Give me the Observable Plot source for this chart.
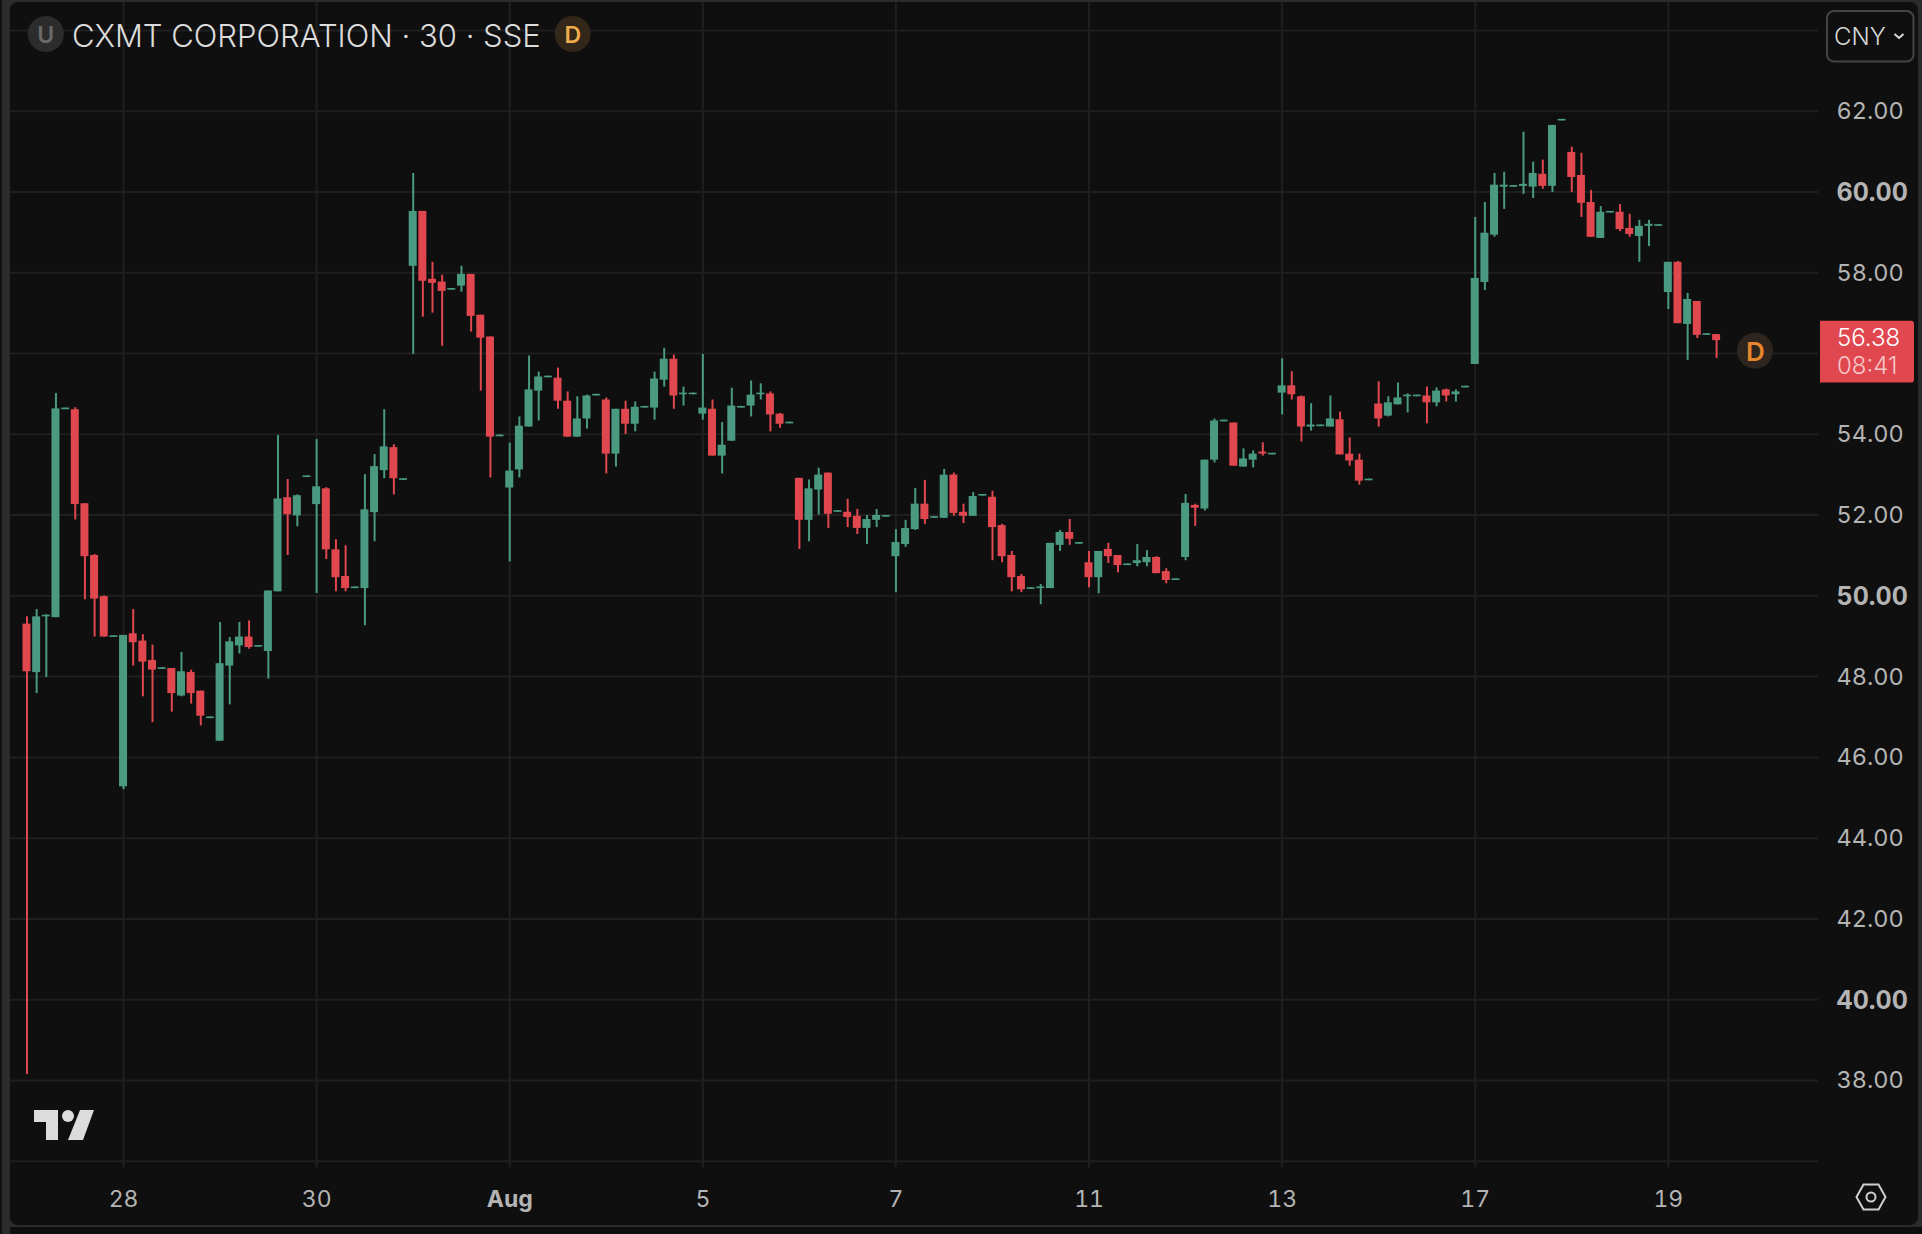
<!DOCTYPE html>
<html>
<head>
<meta charset="utf-8">
<script src="https://cdn.jsdelivr.net/npm/d3@7"></script>
<script src="https://cdn.jsdelivr.net/npm/@observablehq/plot@0.6"></script>
<style>
html,body{margin:0;padding:0;background:#111;overflow:hidden}
svg{display:block}
</style>
</head>
<body>
<div id="chart"></div>
<script>
const opens = [
49.30,48.10,49.48,49.46,54.61,54.61,52.28,51.00,49.98,48.97,
45.27,49.06,48.88,48.40,48.18,48.20,47.52,48.10,47.64,46.96,
46.40,48.26,48.76,48.98,48.73,48.62,50.10,52.43,51.98,52.93,
52.26,52.65,51.14,50.48,50.18,50.18,52.06,53.10,53.67,52.86,
58.16,59.52,57.84,57.77,57.57,57.67,57.96,56.95,56.41,53.94,
52.67,53.12,54.18,55.07,55.40,55.39,54.82,53.93,54.38,54.95,
54.85,53.51,54.62,54.25,54.65,54.65,55.34,55.86,54.98,54.98,
54.50,54.62,53.46,53.83,54.65,54.70,54.98,55.00,54.50,54.26,
52.91,51.87,52.62,53.04,52.07,52.07,51.97,51.67,51.87,51.95,
50.97,51.27,51.64,52.27,51.92,51.92,52.99,52.07,51.97,52.47,
52.44,51.74,51.00,50.48,50.16,50.18,50.18,51.25,51.57,51.28,
50.82,50.45,51.15,51.00,50.75,50.80,50.82,50.95,50.60,50.38,
50.95,52.24,52.15,53.36,54.31,54.28,53.19,53.36,53.56,53.49,
55.02,55.20,54.93,54.18,54.19,54.18,54.36,53.51,53.36,52.85,
54.75,54.45,54.73,54.93,54.93,54.95,54.78,55.10,54.98,55.15,
55.73,57.76,58.93,60.12,60.12,60.14,60.12,60.44,60.14,61.76,
60.98,60.41,59.74,58.85,59.48,59.50,59.10,58.90,59.15,59.15,
57.51,58.26,56.72,57.29,56.45,56.47];
const highs = [
49.48,49.66,49.53,55.01,54.65,54.66,52.28,51.02,50.00,49.01,
49.02,49.66,49.04,48.78,48.22,48.20,48.60,48.16,47.64,47.00,
49.34,48.97,49.34,49.38,48.77,50.12,53.97,52.88,52.50,52.97,
53.87,52.68,51.39,51.24,50.22,53.00,53.50,54.61,53.74,52.90,
60.46,59.52,58.26,57.94,57.61,58.16,57.96,56.95,56.41,53.98,
53.78,54.43,55.94,55.54,55.44,55.64,55.05,54.93,54.97,54.99,
54.90,54.62,54.82,54.80,54.69,55.54,56.13,55.96,55.17,55.02,
55.98,54.85,54.29,55.14,54.69,55.32,55.25,55.05,54.52,54.30,
52.91,52.87,53.16,53.04,52.11,52.39,52.14,51.99,52.14,51.99,
51.64,51.87,52.66,52.86,51.96,53.13,53.04,52.27,52.56,52.51,
52.59,51.77,51.10,50.53,50.20,50.28,51.30,51.62,51.89,51.32,
51.10,51.10,51.30,51.00,50.79,51.27,51.12,50.97,50.67,50.42,
52.51,52.27,53.36,54.38,54.35,54.28,53.64,53.59,53.79,53.53,
55.87,55.55,54.95,54.76,54.23,54.95,54.55,53.91,53.51,52.89,
55.30,54.93,55.27,55.00,54.97,55.17,55.15,55.12,55.10,55.19,
59.37,59.74,60.46,60.49,60.16,61.48,60.74,60.79,61.65,61.80,
61.11,60.96,60.04,59.64,59.52,59.69,59.45,59.30,59.30,59.19,
58.26,58.28,57.49,57.29,56.49,56.47];
const lows = [
38.15,47.58,47.98,49.46,54.61,51.88,49.90,48.98,48.98,48.97,
45.20,48.26,47.50,46.86,48.18,47.12,47.50,47.32,46.78,46.96,
46.40,47.30,48.56,48.68,48.73,47.94,50.10,51.00,51.71,52.93,
50.06,50.90,50.10,50.10,50.18,49.26,51.34,52.90,52.50,52.86,
55.98,56.90,57.00,56.18,57.57,57.52,56.53,55.07,52.92,53.94,
50.84,52.92,54.18,54.33,55.40,54.62,53.93,53.93,54.13,54.95,
53.02,53.19,54.00,54.06,54.65,54.35,55.17,54.62,54.70,54.98,
54.35,53.46,53.02,53.83,54.65,54.43,54.85,54.06,54.15,54.26,
51.15,51.34,52.00,51.67,52.07,51.69,51.52,51.27,51.69,51.95,
50.08,51.20,51.62,51.77,51.92,51.92,51.97,51.79,51.97,52.47,
50.87,50.82,50.10,50.08,50.16,49.78,50.18,51.10,51.25,51.28,
50.20,50.05,50.80,50.57,50.75,50.72,50.72,50.55,50.30,50.38,
50.87,51.72,52.10,53.29,54.31,53.21,53.19,53.17,53.46,53.49,
54.48,54.85,53.81,54.08,54.19,54.18,53.49,53.21,52.74,52.85,
54.18,54.43,54.73,54.53,54.93,54.26,54.68,54.80,54.80,55.15,
55.73,57.56,58.88,59.57,60.12,59.94,59.84,60.07,59.99,61.76,
59.99,59.37,58.88,58.85,59.48,59.02,58.88,58.26,58.65,59.15,
57.09,56.74,55.83,56.37,56.45,55.88];
const closes = [
48.12,49.48,49.52,54.63,54.65,52.26,50.97,49.92,48.98,49.01,
49.02,48.84,48.36,48.16,48.22,47.58,48.12,47.58,47.02,47.00,
48.32,48.86,48.98,48.72,48.77,50.12,52.40,52.01,52.48,52.97,
52.70,51.14,50.45,50.18,50.22,52.13,53.20,53.69,52.90,52.90,
59.52,57.79,57.74,57.54,57.61,57.96,56.92,56.38,53.93,53.98,
53.09,54.20,55.10,55.42,55.44,54.82,53.93,54.38,54.95,54.99,
53.51,54.62,54.25,54.67,54.69,55.37,55.86,54.95,55.02,55.02,
54.65,53.46,53.73,54.70,54.69,54.97,55.02,54.48,54.25,54.30,
51.87,52.65,52.99,52.02,52.11,51.94,51.67,51.89,51.99,51.99,
51.32,51.67,52.27,51.89,51.96,52.99,52.04,51.97,52.46,52.51,
51.69,50.97,50.45,50.15,50.20,50.22,51.30,51.57,51.40,51.32,
50.45,51.10,50.97,50.75,50.79,50.87,50.95,50.55,50.38,50.42,
52.29,52.17,53.36,54.33,54.35,53.21,53.39,53.51,53.51,53.53,
55.20,54.98,54.18,54.23,54.23,54.38,53.49,53.34,52.84,52.89,
54.38,54.78,54.90,54.97,54.97,54.78,55.07,54.95,55.05,55.19,
57.86,58.98,60.17,60.17,60.16,60.19,60.46,60.14,61.65,61.80,
60.36,59.72,58.88,59.50,59.52,59.07,58.95,59.15,59.20,59.19,
58.26,56.74,57.34,56.45,56.49,56.32];

const gridYValues = [36,38,40,42,44,46,48,50,52,54,56,58,60,62,64];
const yTickValues = [38,42,44,46,48,52,54,58,62];
const yBoldValues = [40,50,60];
const xTickIndex = [10,30,50,70,90,110,130,150,170];
const xTickLabels = ["28","30","Aug","5","7","11","13","17","19"];
const xBoldIndex = [50];
const titleText = "CXMT CORPORATION · 30 · SSE";
const lastPrice = 56.38;
const lastPriceText = "56.38";
const countdownText = "08:41";
const currencyText = "CNY";

const GREEN = "#4a9a82", RED = "#e0474f", GRID = "#1f1f1f", TICK = "#b4b4b4", BG = "#0f0f0f";
const FONT = "Inter, 'Noto Sans', sans-serif";
const bars = opens.map((o,i) => ({i, o, h:highs[i], l:lows[i], c:closes[i]}));
const col = d => d.c >= d.o ? GREEN : RED;
const labelOf = d => xTickLabels[xTickIndex.indexOf(d)];

const chart = Plot.plot({
  width:1922, height:1234,
  marginLeft:10, marginRight:104, marginTop:2, marginBottom:73.3,
  style:{background:BG, fontFamily:FONT},
  x:{type:"linear", domain:[0,175], range:[26.5,1716.1], axis:null},
  y:{type:"linear", domain:[36,64], range:[1160.7,30], axis:null},
  marks:[
    Plot.ruleY(gridYValues,{stroke:GRID, strokeWidth:2}),
    Plot.ruleX(xTickIndex,{stroke:GRID, strokeWidth:2}),
    Plot.axisX(xTickIndex.filter(d=>!xBoldIndex.includes(d)),{anchor:"bottom", label:null, tickSize:7, tickPadding:22, tickFormat:labelOf, stroke:GRID, strokeWidth:2, fill:TICK, fontSize:23, fontWeight:400}),
    Plot.axisX(xBoldIndex,{anchor:"bottom", label:null, tickSize:7, tickPadding:22, tickFormat:labelOf, stroke:GRID, strokeWidth:2, fill:TICK, fontSize:23, fontWeight:700}),
    Plot.axisY(yTickValues,{anchor:"right", label:null, tickSize:0, tickPadding:18, dy:0.5, tickFormat:d=>d.toFixed(2), fill:TICK, fontSize:23.5, fontWeight:400}),
    Plot.axisY(yBoldValues,{anchor:"right", label:null, tickSize:0, tickPadding:18, dy:1, tickFormat:d=>d.toFixed(2), fill:TICK, fontSize:25, fontWeight:700}),
    Plot.ruleX(bars,{x:"i", y1:"l", y2:"h", stroke:col, strokeWidth:2}),
    Plot.rect(bars,{x1:d=>d.i-0.414, x2:d=>d.i+0.414, y1:"o", y2:"c", fill:col})
  ]
});

// Window chrome, header and price tag around the plot
const svg = d3.select(chart);
const yScale = chart.scale("y");
const ink = svg.append("g").attr("font-family",FONT).attr("text-anchor","start");

const back = svg.insert("g",":first-child");
back.append("rect").attr("width",1922).attr("height",1234).attr("fill","#111");
back.append("rect").attr("x",2).attr("width",1920).attr("height",1234).attr("fill","#2b2b2b");
back.append("rect").attr("x",10).attr("y",2).attr("width",1908).attr("height",1223).attr("rx",8).attr("fill",BG);
back.append("rect").attr("x",10).attr("y",1227).attr("width",1912).attr("height",7).attr("fill",BG);

// title
ink.append("circle").attr("cx",45.8).attr("cy",34).attr("r",18).attr("fill","#2c2c2c");
ink.append("text").attr("x",45.8).attr("y",34.5).attr("dy","0.36em").attr("text-anchor","middle").attr("font-size",23).attr("font-weight",600).attr("fill","#6a6a6a").text("U");
ink.append("text").attr("x",72).attr("y",35.5).attr("dy","0.36em").attr("font-size",31).attr("font-weight",300).attr("fill","#dcdcdc").text(titleText);
ink.append("circle").attr("cx",572.7).attr("cy",34).attr("r",18).attr("fill","#33271a");
ink.append("text").attr("x",572.7).attr("y",34.5).attr("dy","0.36em").attr("text-anchor","middle").attr("font-size",23).attr("font-weight",600).attr("fill","#f0ac4d").text("D");

// currency button
ink.append("rect").attr("x",1827).attr("y",11).attr("width",86.5).attr("height",50.5).attr("rx",7).attr("fill","none").attr("stroke","#444").attr("stroke-width",2);
ink.append("text").attr("x",1834).attr("y",36.5).attr("dy","0.36em").attr("font-size",24).attr("font-weight",300).attr("fill","#d8d8d8").text(currencyText);
ink.append("path").attr("d","M1894.5 34l4.5 4 4.5-4").attr("fill","none").attr("stroke","#d8d8d8").attr("stroke-width",2);

// last price tag
const py = yScale.apply(lastPrice);
ink.append("path").attr("d",`M1820 ${py-17}h91a3 3 0 0 1 3 3v55.7a3 3 0 0 1 -3 3h-91z`).attr("fill",RED);
ink.append("text").attr("x",1837).attr("y",py).attr("dy","0.36em").attr("font-size",24).attr("font-weight",300).attr("fill","#ffffff").text(lastPriceText);
ink.append("text").attr("x",1837).attr("y",py+28).attr("dy","0.36em").attr("font-size",24).attr("font-weight",300).attr("fill","#f6c6c8").text(countdownText);

// dividend badge
ink.append("circle").attr("cx",1755).attr("cy",350.7).attr("r",18).attr("fill","#2e261e");
ink.append("text").attr("x",1755.5).attr("y",351.7).attr("dy","0.36em").attr("text-anchor","middle").attr("font-size",26).attr("font-weight",600).attr("fill","#e8842a").text("D");

// logo
ink.append("path").attr("d","M34 1110h24v30h-12v-18h-12z M80 1110h14l-11 30h-15z").attr("fill","#dcdcdc");
ink.append("circle").attr("cx",68).attr("cy",1116).attr("r",6).attr("fill","#dcdcdc");

// settings icon
ink.append("path").attr("d","M1863.5 1184.5h15l7 12.5-7 12.5h-15l-7-12.5z").attr("fill","none").attr("stroke","#cfcfcf").attr("stroke-width",2);
ink.append("circle").attr("cx",1871).attr("cy",1197).attr("r",4.5).attr("fill","none").attr("stroke","#cfcfcf").attr("stroke-width",2);

document.getElementById("chart").append(chart);
</script>
</body>
</html>
